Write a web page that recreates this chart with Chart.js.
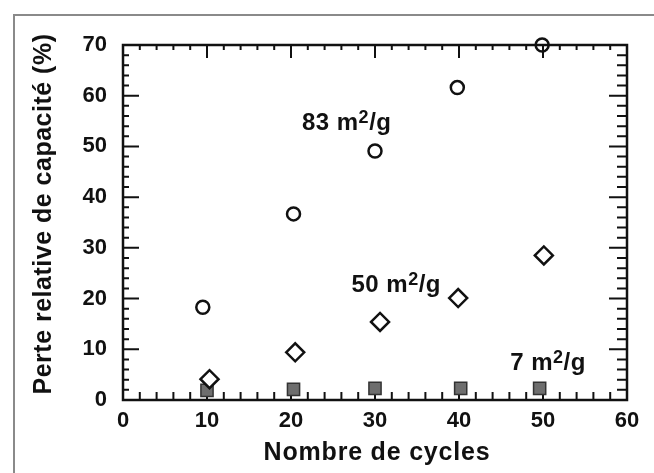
<!DOCTYPE html>
<html>
<head>
<meta charset="utf-8">
<script src="https://cdn.jsdelivr.net/npm/chart.js@4/dist/chart.umd.min.js"></script>
<style>
  html, body { margin: 0; padding: 0; background: #fff; }
  #wrap { width: 654px; height: 473px; }
</style>
</head>
<body>
<div id="wrap"><canvas id="lossChart" width="654" height="473"></canvas></div>
<script>
// values
const xTicks = [0, 10, 20, 30, 40, 50, 60];
const yTicks = [0, 10, 20, 30, 40, 50, 60, 70];

const cycles83 = [9.5, 20.3, 30.0, 39.8, 49.9];
const loss83 = [18.3, 36.7, 49.1, 61.6, 70.0];
const cycles50 = [10.3, 20.5, 30.6, 39.9, 50.1];
const loss50 = [4.1, 9.4, 15.4, 20.1, 28.5];
const cycles7 = [10.0, 20.3, 30.0, 40.2, 49.6];
const loss7 = [1.9, 2.1, 2.3, 2.3, 2.3];

const seriesNames = ['83', '50', '7'];
const labelX = [21.3, 27.2, 46.1];
const labelY = [53.3, 21.2, 6.0];

const xTitle = 'Nombre de cycles';
const yTitle = 'Perte relative de capacité (%)';

const FONT = '"Liberation Sans", Arial, Helvetica, sans-serif';
const INK = '#111';

function pts(xs, ys) {
  return xs.map((x, i) => ({ x: x, y: ys[i] }));
}

// outer frame, inward ticks on all four sides, axis titles, labels
const decor = {
  id: 'decor',
  beforeDraw(chart) {
    const ctx = chart.ctx;
    ctx.save();
    ctx.strokeStyle = '#8a8a8a';
    ctx.lineWidth = 2;
    ctx.beginPath();
    ctx.moveTo(14, 473);
    ctx.lineTo(14, 15);
    ctx.lineTo(654, 15);
    ctx.stroke();
    ctx.restore();
  },
  beforeDatasetsDraw(chart) {
    const { ctx, chartArea: a, scales: { x, y } } = chart;
    ctx.save();
    ctx.strokeStyle = INK;
    ctx.lineWidth = 2.5;
    ctx.strokeRect(a.left, a.top, a.right - a.left, a.bottom - a.top);
    ctx.lineWidth = 2;
    ctx.beginPath();
    for (let v = x.min; v <= x.max; v += 2) {
      const px = x.getPixelForValue(v);
      const major = v % 10 === 0;
      ctx.moveTo(px, a.top); ctx.lineTo(px, a.top + (major ? 13 : 5));
      ctx.moveTo(px, a.bottom); ctx.lineTo(px, a.bottom - (major ? 13 : 8));
    }
    for (let v = y.min; v <= y.max; v += 2) {
      const py = y.getPixelForValue(v);
      const major = v % 10 === 0;
      ctx.moveTo(a.left, py); ctx.lineTo(a.left + (major ? 16 : 6), py);
      ctx.moveTo(a.right, py); ctx.lineTo(a.right - (major ? 18 : 10), py);
    }
    ctx.stroke();
    ctx.restore();
  },
  afterDraw(chart) {
    const { ctx, chartArea: a, scales: { x, y } } = chart;
    ctx.save();
    ctx.fillStyle = INK;

    // axis titles
    ctx.font = 'bold 25px ' + FONT;
    ctx.letterSpacing = '0.8px';
    ctx.textAlign = 'center';
    ctx.textBaseline = 'alphabetic';
    ctx.fillText(xTitle, (a.left + a.right) / 2 + 2, 460);

    ctx.save();
    ctx.letterSpacing = '0.5px';
    ctx.translate(51, 214);
    ctx.rotate(-Math.PI / 2);
    ctx.fillText(yTitle, 0, 0);
    ctx.restore();

    // series labels "NN m²/g"
    ctx.textAlign = 'left';
    ctx.letterSpacing = '0.5px';
    seriesNames.forEach((n, i) => {
      let px = x.getPixelForValue(labelX[i]);
      const py = y.getPixelForValue(labelY[i]);
      ctx.font = 'bold 24px ' + FONT;
      const head = n + ' m';
      ctx.fillText(head, px, py);
      px += ctx.measureText(head).width;
      ctx.font = 'bold 18px ' + FONT;
      ctx.fillText('2', px, py - 7);
      px += ctx.measureText('2').width;
      ctx.font = 'bold 24px ' + FONT;
      ctx.fillText('/g', px, py);
    });
    ctx.restore();
  }
};

const ctx = document.getElementById('lossChart').getContext('2d');
new Chart(ctx, {
  type: 'scatter',
  data: {
    datasets: [
      {
        label: '83 m2/g',
        data: pts(cycles83, loss83),
        pointStyle: 'circle',
        pointRadius: 6.5,
        borderWidth: 2.5,
        borderColor: INK,
        backgroundColor: 'rgba(0,0,0,0)',
        clip: false
      },
      {
        label: '50 m2/g',
        data: pts(cycles50, loss50),
        pointStyle: 'rectRot',
        pointRadius: 9,
        borderWidth: 2.5,
        borderColor: INK,
        backgroundColor: '#fff',
        clip: false
      },
      {
        label: '7 m2/g',
        data: pts(cycles7, loss7),
        pointStyle: 'rect',
        pointRadius: 8.6,
        borderWidth: 1.5,
        borderColor: '#333',
        backgroundColor: '#6e6e6e',
        clip: false
      }
    ]
  },
  options: {
    responsive: false,
    animation: false,
    events: [],
    layout: { padding: { left: 0, top: 45, right: 27, bottom: 0 } },
    plugins: {
      legend: { display: false },
      tooltip: { enabled: false }
    },
    scales: {
      x: {
        type: 'linear',
        min: 0,
        max: 60,
        afterBuildTicks: s => { s.ticks = xTicks.map(v => ({ value: v })); },
        afterFit: s => { s.height = 73; },
        grid: { display: false, drawTicks: false },
        border: { display: false },
        ticks: { padding: 8, color: INK, font: { family: FONT, size: 22, weight: 'bold' } }
      },
      y: {
        type: 'linear',
        min: 0,
        max: 70,
        afterBuildTicks: s => { s.ticks = yTicks.map(v => ({ value: v })); },
        afterFit: s => { s.width = 123; },
        grid: { display: false, drawTicks: false },
        border: { display: false },
        ticks: { padding: 16, color: INK, font: { family: FONT, size: 22, weight: 'bold' } }
      }
    }
  },
  plugins: [decor]
});
</script>
</body>
</html>
